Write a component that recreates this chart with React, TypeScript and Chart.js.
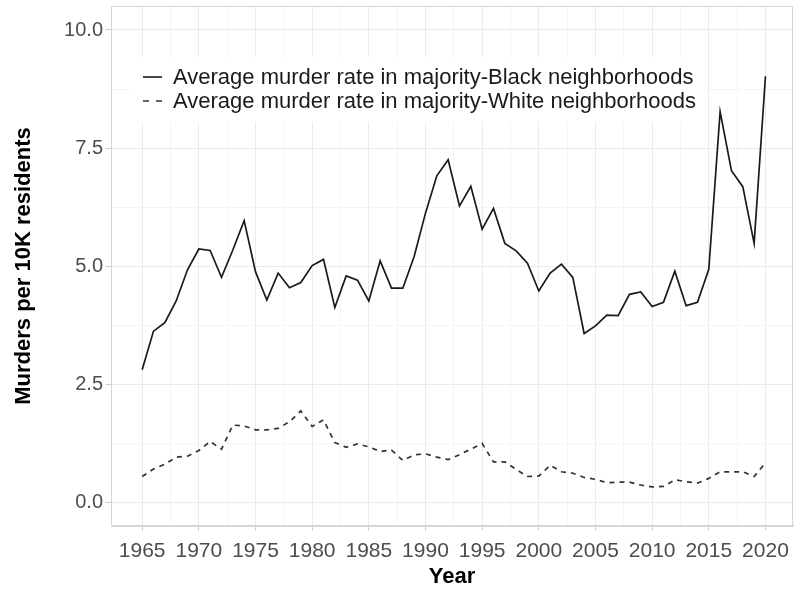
import React, { useEffect, useRef } from "react";
import { Chart, registerables } from "chart.js";

Chart.register(...registerables);

const years = [
  1965, 1966, 1967, 1968, 1969, 1970, 1971, 1972, 1973, 1974,
  1975, 1976, 1977, 1978, 1979, 1980, 1981, 1982, 1983, 1984,
  1985, 1986, 1987, 1988, 1989, 1990, 1991, 1992, 1993, 1994,
  1995, 1996, 1997, 1998, 1999, 2000, 2001, 2002, 2003, 2004,
  2005, 2006, 2007, 2008, 2009, 2010, 2011, 2012, 2013, 2014,
  2015, 2016, 2017, 2018, 2019, 2020,
];

const blackRate = [
  2.80, 3.62, 3.80, 4.26, 4.92, 5.36, 5.33, 4.76, 5.34, 5.96,
  4.88, 4.28, 4.85, 4.54, 4.65, 5.01, 5.14, 4.12, 4.79, 4.70,
  4.26, 5.11, 4.53, 4.53, 5.20, 6.12, 6.91, 7.25, 6.27, 6.69,
  5.78, 6.22, 5.48, 5.32, 5.06, 4.47, 4.85, 5.04, 4.76, 3.57,
  3.73, 3.96, 3.95, 4.40, 4.45, 4.14, 4.23, 4.89, 4.16, 4.23,
  4.93, 8.27, 7.02, 6.68, 5.48, 9.02,
];

const whiteRate = [
  0.54, 0.70, 0.80, 0.95, 0.97, 1.09, 1.28, 1.12, 1.63, 1.61,
  1.53, 1.53, 1.56, 1.70, 1.93, 1.60, 1.74, 1.26, 1.16, 1.23,
  1.17, 1.07, 1.10, 0.88, 1.00, 1.02, 0.95, 0.90, 1.00, 1.12,
  1.24, 0.85, 0.85, 0.69, 0.54, 0.55, 0.78, 0.64, 0.61, 0.52,
  0.48, 0.41, 0.42, 0.42, 0.36, 0.32, 0.33, 0.47, 0.43, 0.40,
  0.50, 0.64, 0.64, 0.64, 0.54, 0.83,
];

const seriesLabels = [
  "Average murder rate in majority-Black neighborhoods",
  "Average murder rate in majority-White neighborhoods",
];

const xTicks = [
  1965, 1967.5, 1970, 1972.5, 1975, 1977.5, 1980, 1982.5, 1985, 1987.5,
  1990, 1992.5, 1995, 1997.5, 2000, 2002.5, 2005, 2007.5, 2010, 2012.5,
  2015, 2017.5, 2020,
];
const yTicks = [0, 1.25, 2.5, 3.75, 5, 6.25, 7.5, 8.75, 10];

const FONT = "'Liberation Sans', Arial, Helvetica, sans-serif";

export default function App() {
  const ref = useRef<HTMLCanvasElement | null>(null);

  useEffect(() => {
    const canvas = ref.current;
    if (!canvas) return;

    const panelPlugin = {
      id: "panelAndLegend",
      afterDraw(chart: any) {
        const { ctx, chartArea } = chart;
        const { left, top, right, bottom } = chartArea;
        ctx.save();
        ctx.strokeStyle = "#d6d6d6";
        ctx.lineWidth = 1;
        ctx.strokeRect(
          Math.round(left) + 0.5,
          Math.round(top) + 0.5,
          Math.round(right) - Math.round(left) - 1,
          Math.round(bottom) - Math.round(top)
        );
        ctx.fillStyle = "#ffffff";
        ctx.fillRect(132, 57, 573, 65);
        const rows = [77, 101];
        ctx.font = `22px ${FONT}`;
        ctx.textBaseline = "middle";
        ctx.textAlign = "left";
        rows.forEach((y, i) => {
          ctx.strokeStyle = i === 0 ? "#1a1a1a" : "#333333";
          ctx.lineWidth = 1.6;
          ctx.setLineDash(i === 0 ? [] : [6, 7]);
          ctx.beginPath();
          ctx.moveTo(143, y);
          ctx.lineTo(162, y);
          ctx.stroke();
          ctx.setLineDash([]);
          ctx.fillStyle = "#1a1a1a";
          ctx.fillText(seriesLabels[i], 173, y + 1);
        });
        ctx.restore();
      },
    };

    const chart = new Chart(canvas, {
      type: "line",
      data: {
        datasets: [
          {
            label: seriesLabels[0],
            data: years.map((yr, i) => ({ x: yr, y: blackRate[i] })),
            borderColor: "#1a1a1a",
            borderWidth: 1.7,
            pointRadius: 0,
            tension: 0,
            fill: false,
          },
          {
            label: seriesLabels[1],
            data: years.map((yr, i) => ({ x: yr, y: whiteRate[i] })),
            borderColor: "#333333",
            borderWidth: 1.7,
            borderDash: [5, 5],
            pointRadius: 0,
            tension: 0,
            fill: false,
          },
        ],
      },
      options: {
        animation: false,
        responsive: false,
        maintainAspectRatio: false,
        devicePixelRatio: 1,
        layout: { padding: { top: 6.4, right: 2, left: 0, bottom: 0 } },
        plugins: {
          legend: { display: false },
          tooltip: { enabled: false },
        },
        scales: {
          x: {
            type: "linear",
            min: 1962.25,
            max: 2022.43,
            afterBuildTicks: (scale: any) => {
              scale.ticks = xTicks.map((v) => ({ value: v }));
            },
            afterFit: (scale: any) => {
              scale.height = 63.4;
              scale.paddingLeft = 0;
              scale.paddingRight = 0;
            },
            ticks: {
              autoSkip: false,
              maxRotation: 0,
              minRotation: 0,
              padding: 8,
              color: "#4d4d4d",
              font: { family: FONT, size: 21 },
              callback: (v: any) => (Number(v) % 5 === 0 ? String(v) : ""),
            },
            grid: {
              color: (c: any) =>
                c.tick && c.tick.value % 5 === 0 ? "#ebebeb" : "#f5f5f5",
              tickColor: (c: any) =>
                c.tick && c.tick.value % 5 === 0 ? "#cccccc" : "rgba(0,0,0,0)",
              tickLength: 5,
              lineWidth: 1,
            },
            border: { display: true, color: "#d6d6d6" },
            title: {
              display: true,
              text: "Year",
              color: "#000000",
              font: { family: FONT, size: 22, weight: "bold", lineHeight: 1.1 },
              padding: { top: 0, bottom: 0 },
            },
          },
          y: {
            type: "linear",
            min: -0.5,
            max: 10.5,
            afterBuildTicks: (scale: any) => {
              scale.ticks = yTicks.map((v) => ({ value: v }));
            },
            afterFit: (scale: any) => {
              scale.width = 111;
              scale.paddingTop = 0;
              scale.paddingBottom = 0;
            },
            ticks: {
              padding: 3,
              color: "#4d4d4d",
              font: { family: FONT, size: 20 },
              callback: (v: any) =>
                Number(v) % 2.5 === 0 ? Number(v).toFixed(1) : "",
            },
            grid: {
              color: (c: any) =>
                c.tick && c.tick.value % 2.5 === 0 ? "#ebebeb" : "#f5f5f5",
              tickColor: (c: any) =>
                c.tick && c.tick.value % 2.5 === 0 ? "#cccccc" : "rgba(0,0,0,0)",
              tickLength: 5,
              lineWidth: 1,
            },
            border: { display: true, color: "#d6d6d6" },
            title: {
              display: true,
              text: "Murders per 10K residents",
              color: "#000000",
              font: { family: FONT, size: 22, weight: "bold" },
              padding: { top: 11, bottom: 0 },
            },
          },
        },
      },
      plugins: [panelPlugin],
    } as any);

    return () => {
      chart.destroy();
    };
  }, []);

  return (
    <div
      style={{
        position: "fixed",
        left: 0,
        top: 0,
        width: 795,
        height: 589,
        background: "#ffffff",
      }}
    >
      <canvas ref={ref} width={795} height={589} style={{ width: 795, height: 589 }} />
    </div>
  );
}
